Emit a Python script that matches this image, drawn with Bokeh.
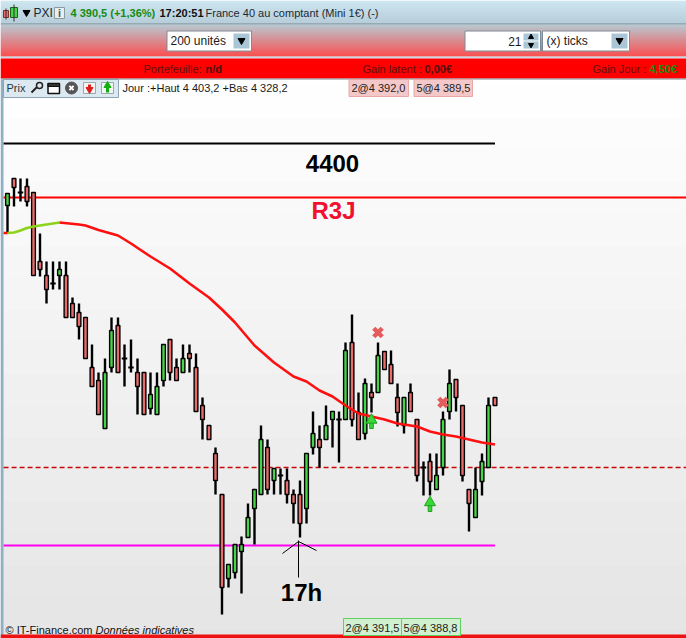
from bokeh.plotting import figure
from bokeh.models import Range1d
from bokeh.core.properties import value
from bokeh.embed import file_html
from bokeh.resources import INLINE

# candle values
highs = [4398.00,4398.60,4398.60,4398.60,4398.04,4396.40,4395.28,4395.28,4395.28,4395.28,4393.84,4393.60,4393.04,
 4391.96,4390.84,4391.40,4393.04,4393.04,4391.96,4392.16,4391.40,4390.84,4390.84,4390.84,4391.96,4392.16,4391.40,
 4391.96,4391.96,4391.60,4389.84,4388.72,4387.84,4385.96,4383.16,4383.96,4384.28,4385.60,4386.16,4388.72,4388.16,
 4387.00,4387.00,4387.00,4386.16,4386.52,4387.60,4389.28,4388.72,4389.52,4389.28,4389.28,4392.04,4393.16,4390.04,
 4390.60,4390.40,4392.04,4391.68,4391.72,4390.40,4389.84,4390.40,4388.96,4387.28,4387.60,4387.60,4389.28,4390.96,
 4390.56,4389.52,4386.16,4387.04,4387.60,4389.84,4389.84]
opens = [4397.52,4398.60,4398.04,4398.28,4398.04,4395.28,4394.72,4394.40,4394.72,4394.72,4393.60,4393.24,4393.04,
 4391.04,4390.52,4388.60,4391.04,4392.72,4391.40,4391.04,4390.84,4390.84,4389.40,4389.16,4390.52,4392.16,4391.04,
 4390.84,4391.60,4391.04,4389.52,4388.72,4387.60,4385.96,4382.60,4382.84,4383.68,4384.24,4385.40,4385.96,4387.84,
 4386.52,4386.72,4386.52,4385.96,4385.96,4385.40,4387.84,4388.16,4388.16,4388.96,4388.96,4388.96,4392.04,4389.24,
 4388.40,4390.04,4390.04,4391.68,4391.16,4389.84,4388.72,4390.04,4388.96,4387.04,4387.28,4386.16,4387.04,4389.28,
 4390.56,4389.52,4386.16,4385.04,4386.48,4387.04,4389.84]
lows = [4396.44,4397.48,4397.68,4397.48,4394.72,4394.68,4393.60,4394.16,4394.16,4393.04,4393.04,4392.16,4391.40,
 4390.28,4389.16,4388.60,4390.84,4390.84,4390.28,4390.84,4389.16,4389.16,4389.16,4389.16,4390.28,4390.52,4390.52,
 4390.84,4390.84,4389.28,4388.16,4388.16,4385.96,4381.16,4382.24,4382.60,4382.00,4384.24,4383.96,4385.96,4385.96,
 4385.96,4385.96,4385.60,4384.80,4384.24,4384.80,4387.56,4387.04,4388.16,4387.84,4387.24,4388.96,4388.68,4388.16,
 4388.16,4389.24,4390.04,4390.96,4390.40,4388.68,4388.40,4389.28,4386.48,4385.92,4385.92,4386.16,4386.72,4388.96,
 4389.28,4386.48,4384.48,4385.04,4385.92,4387.04,4389.52]
closes = [4398.00,4398.24,4398.04,4397.68,4394.72,4394.96,4394.16,4394.40,4394.96,4393.04,4393.04,4392.68,4391.40,
 4390.28,4389.16,4390.84,4392.52,4390.84,4391.40,4391.04,4390.28,4389.16,4389.96,4390.28,4391.96,4390.84,4390.52,
 4391.40,4391.40,4389.28,4388.96,4388.16,4386.52,4382.24,4383.16,4383.96,4383.96,4385.04,4386.16,4388.16,4386.16,
 4387.00,4386.72,4385.96,4385.60,4384.80,4387.60,4388.40,4387.84,4388.72,4389.28,4388.96,4391.72,4388.96,4388.16,
 4390.40,4389.84,4391.52,4390.96,4390.40,4389.24,4389.84,4389.28,4386.72,4387.04,4386.48,4386.72,4388.96,4390.40,
 4389.84,4386.72,4385.60,4386.16,4387.28,4389.52,4389.52]

ma_idx = [0,1,2,3,4,6,8,11,12,14,17,19,22,25,28,31,33,35,38,41,44,46,48,50,52,54,56,58,60,63,65,67,69,71,73,75]
ma_val = [4396.42,4396.44,4396.52,4396.62,4396.68,4396.76,4396.84,4396.76,4396.72,4396.54,4396.32,4396.00,4395.48,
 4395.00,4394.40,4393.84,4393.36,4392.84,4391.92,4391.24,4390.68,4390.48,4390.12,4389.88,4389.52,4389.20,4389.08,
 4388.96,4388.80,4388.68,4388.48,4388.36,4388.28,4388.16,4388.04,4387.96]
ma_rising_until = 8

level_4400 = 4400.0
level_r3j = 4397.84
level_prev = 4387.04
level_magenta = 4383.92
last_idx = 75

sell_idx = [57, 67]
sell_pos = [4392.44, 4389.64]
buy_idx = [56, 65]
buy_top = [4388.94, 4385.64]
buy_bot = [4388.60, 4385.28]

GREEN, RED = "#48d448", "#e86c6c"

W, H = 686, 638
p = figure(width=W, height=H, output_backend="svg", toolbar_location=None,
           x_range=Range1d(-7/6.5, (W-7)/6.5), y_range=Range1d(4405.72-0.04*H, 4405.72),
           min_border=0, outline_line_color=None,
           background_fill_color="white", border_fill_color="white")
p.xaxis.visible = False
p.yaxis.visible = False
p.grid.visible = False
p.extra_x_ranges["px"] = Range1d(0, W)
p.extra_y_ranges["px"] = Range1d(H, 0)
PX = dict(x_range_name="px", y_range_name="px")


def box(l, t, r, b, fill, line=None, lw=1):
    p.quad(left=[l], right=[r], top=[t], bottom=[b], fill_color=fill,
           line_color=line, line_width=lw, **PX)


def seg(x0, y0, x1, y1, color="black", lw=1):
    p.segment(x0=[x0], y0=[y0], x1=[x1], y1=[y1], line_color=color, line_width=lw, **PX)


def txt(x, y, s, size=12, color="black", style="normal", align="left", font="Liberation Sans"):
    p.text(x=[x], y=[y], text=[s], text_font=value(font), text_font_size=f"{size}px",
           text_font_style=style, text_color=color, text_align=align, text_baseline="middle", **PX)


def mix(a, b, t):
    return "#%02x%02x%02x" % tuple(round(a[i] + (b[i]-a[i])*t) for i in range(3))


def band(y0, y1, c0, c1):
    rows = list(range(y0, y1))
    p.quad(left=[0]*len(rows), right=[W]*len(rows), top=rows, bottom=[r+1 for r in rows],
           fill_color=[mix(c0, c1, (r-y0)/(y1-y0)) for r in rows], line_color=None, **PX)


# chart background gradient
band(78, 636, (255, 255, 255), (220, 220, 220))

# top bars
band(0, 23, (190, 222, 236), (158, 188, 204))
box(0, 23, W, 24, "#5e7682")
band(24, 56, (160, 182, 194), (250, 20, 20))
box(0, 56, W, 58, "#c8d8e0")
box(0, 58, W, 78, "#ff0000")
box(0, 78, W, 79, "#7c8c94")
box(0, 79, 3, 638, "#8fb0c4")
box(0, 634, W, 638, "#ee1111")

# level lines
p.segment(x0=[-0.6], x1=[last_idx], y0=[level_4400], y1=[level_4400], line_color="black", line_width=2)
p.ray(x=[-0.6], y=[level_r3j], length=0, angle=0, line_color="#ff0000", line_width=2)
p.ray(x=[-0.6], y=[level_prev], length=0, angle=0, line_color="#c80808", line_width=1.6, line_dash="5 3")
p.segment(x0=[-0.6], x1=[last_idx], y0=[level_magenta], y1=[level_magenta], line_color="#ff00f0", line_width=1.8)

# candles
xs = list(range(len(opens)))
p.segment(x0=xs, x1=xs, y0=lows, y1=highs, line_color="black", line_width=2.4)
for i in xs:
    if opens[i] == closes[i]:
        p.segment(x0=[i-0.42], x1=[i+0.42], y0=[opens[i]], y1=[opens[i]], line_color="black", line_width=2)
    else:
        col = GREEN if closes[i] > opens[i] else RED
        p.vbar(x=[i], width=0.58, top=[max(opens[i], closes[i])], bottom=[min(opens[i], closes[i])],
               fill_color=col, line_color="black", line_width=1.4)

# moving average
k = ma_idx.index(ma_rising_until)
p.line(ma_idx[:k+1], ma_val[:k+1], line_color="#8cd218", line_width=2.6)
p.line(ma_idx[k:], ma_val[k:], line_color="#ff1010", line_width=2.6)
p.segment(x0=[-0.6], x1=[0], y0=[ma_val[0]], y1=[ma_val[0]], line_color="#ff1010", line_width=2.6)

# order markers
p.scatter(sell_idx, sell_pos, marker="x", size=12, line_color="#e45c5c", line_width=4.5)
p.vbar(x=buy_idx, width=0.55, top=buy_top, bottom=buy_bot, fill_color="#38d838", line_color="#20a020", line_width=1)
p.scatter(buy_idx, buy_top, marker="triangle", size=11, fill_color="#38d838", line_color="#20a020", line_width=1)

# annotations
txt(332, 162.5, "4400", 24, "black", "bold", "center")
txt(333, 210, "R3J", 24, "#f01030", "bold", "center")
txt(301, 592, "17h", 24, "black", "bold", "center")
seg(298, 540, 298, 577, "black", 1)
seg(282, 553, 298, 541, "black", 1)
seg(298, 541, 316, 550, "black", 1)

# header row
box(3, 10, 8, 17, "#e86c6c", "#803030")
seg(5.5, 8, 5.5, 19, "#303030", 1)
box(10, 7, 17, 17, "#44d444", "#206020")
seg(13.5, 4, 13.5, 21, "#303030", 1)
p.scatter([26], [12], marker="inverted_triangle", size=7, color="black", **PX)
txt(33, 12.5, "PXI", 12, "#1a2a34")
box(54, 7, 64, 18, "#e8eef0", "#8a9aa4")
txt(59, 12.5, "i", 11, "#555555", "bold", "center")
txt(70, 12.5, "4 390,5 (+1,36%)", 11, "#128c12", "bold")
txt(159, 12.5, "17:20:51", 11, "#101010", "bold")
txt(205, 12.5, "France 40 au comptant (Mini 1€) (-)", 11, "#1a2a34")

# second row controls
box(166.5, 30.5, 251, 50.5, "white", "#7c8c98")
txt(170, 40.5, "200 unités", 12, "#1a1a1a")
box(233, 33, 249, 48, "#aac6d6", None)
p.scatter([241], [40], marker="inverted_triangle", size=7, color="black", **PX)
box(464.5, 30.5, 540, 50.5, "white", "#7c8c98")
txt(521, 40.5, "21", 12, "#1a1a1a", "normal", "right")
box(523, 33, 538, 40, "#aac6d6", None)
box(523, 41, 538, 48, "#aac6d6", None)
p.scatter([530.5], [36.5], marker="triangle", size=5, color="black", **PX)
p.scatter([530.5], [44.5], marker="inverted_triangle", size=5, color="black", **PX)
box(542, 30.5, 629, 50.5, "white", "#7c8c98")
txt(546, 40.5, "(x) ticks", 12, "#1a1a1a")
box(611, 33, 627, 48, "#aac6d6", None)
p.scatter([619], [40], marker="inverted_triangle", size=7, color="black", **PX)

# red band
txt(143, 68, "Portefeuille:", 11, "#601010")
txt(205, 68, "n/d", 11, "#501010", "bold")
txt(362, 68, "Gain latent :", 11, "#601010")
txt(424, 68, "0,00€", 11, "#501010", "bold")
txt(592, 68, "Gain Jour :", 11, "#601010")
txt(649, 68, "4,50€", 11, "#228c10", "bold")

# prix toolbox
box(3, 79, 118, 97, "#dce9f1", "#8aa4b4")
txt(6, 87.5, "Prix", 11, "#26343c")
seg(31, 92, 37, 86, "#222222", 2)
p.scatter([39], [85], marker="circle", size=6, fill_color="#dce9f1", line_color="#222222", line_width=1.5, **PX)
box(47.5, 83, 59, 93, "white", "#111111", 1.5)
box(47.5, 83, 59, 86, "#333333", "#111111", 1)
p.scatter([71], [87.5], marker="circle", size=12, color="#555555", **PX)
p.scatter([71], [87.5], marker="x", size=6, line_color="white", line_width=2, **PX)
box(83, 82, 95, 93, "#f4f4f4", "#9aa8b0")
p.scatter([89], [89], marker="inverted_triangle", size=7, color="#e02020", **PX)
box(101, 82, 113, 93, "#f4f4f4", "#9aa8b0")
p.scatter([107], [85], marker="triangle", size=7, color="#10b010", **PX)
seg(107, 87, 107, 92, "#10b010", 3)
seg(89, 84, 89, 88, "#e02020", 3)
txt(122, 87.5, "Jour :+Haut 4 403,2 +Bas 4 328,2", 11, "#1a1a1a")

# order tags
box(348.5, 79, 408, 96, "#f4c8c8", "#e8a8a8")
txt(351, 87.5, "2@4 392,0", 11, "#222222")
box(413.5, 79, 472, 96, "#f4c8c8", "#e8a8a8")
txt(416, 87.5, "5@4 389,5", 11, "#222222")
box(343, 618, 401, 635, "#d0f0d0", "#60d060")
txt(345, 627, "2@4 391,5", 11, "#222222")
box(401, 618, 460, 635, "#d0f0d0", "#60d060")
txt(403, 627, "5@4 388,8", 11, "#222222")

# footer
txt(5, 629, "© IT-Finance.com", 11, "#111111")
txt(95, 629, "Données indicatives", 11, "#111111", "italic")

open("out.html", "w").write(file_html(p, INLINE))
